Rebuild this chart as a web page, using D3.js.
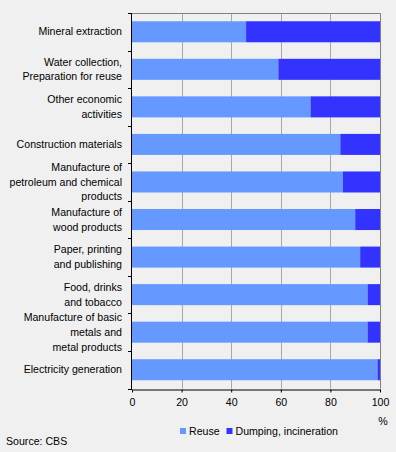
<!DOCTYPE html>
<html>
<head>
<meta charset="utf-8">
<script src="https://cdn.jsdelivr.net/npm/d3@7"></script>
<style>
  html, body { margin: 0; padding: 0; background: #f0f0f0; }
  svg { display: block; }
</style>
</head>
<body>
<div id="chart"></div>
<script>
const categories = [
  ["Mineral extraction"],
  ["Water collection,", "Preparation for reuse"],
  ["Other economic", "activities"],
  ["Construction materials"],
  ["Manufacture of", "petroleum and chemical", "products"],
  ["Manufacture of", "wood products"],
  ["Paper, printing", "and publishing"],
  ["Food, drinks", "and tobacco"],
  ["Manufacture of basic", "metals and", "metal products"],
  ["Electricity generation"]
];
const reuse = [46, 59, 72, 84, 85, 90, 92, 95, 95, 99];
const dumping = reuse.map(v => 100 - v);
const seriesNames = ["Reuse", "Dumping, incineration"];
const xTicks = [0, 20, 40, 60, 80, 100];

const width = 396, height = 452;
const margin = { top: 13, right: 16, bottom: 64, left: 132 };
const font = "'Liberation Sans', Arial, sans-serif";
const fontSize = "10.6px";
const colors = ["#6699ff", "#3333ff"];

const svg = d3.select("#chart").append("svg")
  .attr("width", width)
  .attr("height", height)
  .style("background", "#f0f0f0");

const x = d3.scaleLinear().domain([0, 100]).range([margin.left, width - margin.right]);
const y = d3.scaleBand()
  .domain(d3.range(categories.length))
  .range([margin.top, height - margin.bottom + 0.5])
  .paddingInner(0.44)
  .paddingOuter(0.22);

// gridlines
svg.append("g")
  .selectAll("line")
  .data(xTicks.slice(1, -1))
  .join("line")
  .attr("x1", d => Math.round(x(d)) + 0.5)
  .attr("x2", d => Math.round(x(d)) + 0.5)
  .attr("y1", margin.top)
  .attr("y2", y.range()[1])
  .attr("stroke", "#a8a8a8");

// stacked bars
const stack = categories.map((c, i) => [
  { s: 0, x0: 0, x1: reuse[i] },
  { s: 1, x0: reuse[i], x1: reuse[i] + dumping[i] }
]);

svg.append("g")
  .selectAll("g")
  .data(stack)
  .join("g")
  .attr("transform", (d, i) => `translate(0,${y(i)})`)
  .selectAll("rect")
  .data(d => d)
  .join("rect")
  .attr("x", d => x(d.x0))
  .attr("width", d => x(d.x1) - x(d.x0))
  .attr("height", y.bandwidth())
  .attr("fill", d => colors[d.s]);

// frame top/right
const plotBottom = y.range()[1];
svg.append("path")
  .attr("d", `M${margin.left},${margin.top + 0.5}H${Math.round(x(100)) + 0.5}V${plotBottom}`)
  .attr("fill", "none")
  .attr("stroke", "#808080");

// x axis
const xAxis = svg.append("g")
  .attr("transform", `translate(0,${Math.round(plotBottom) + 0.5})`)
  .call(d3.axisBottom(x).tickValues(xTicks).tickSize(3).tickSizeOuter(0).tickPadding(6));
xAxis.select(".domain").attr("stroke", "#000");
xAxis.selectAll("text").attr("font-family", font).attr("font-size", fontSize).attr("fill", "#000");

// y axis line + ticks at band boundaries
const step = y.step();
const bounds = d3.range(categories.length + 1).map(i => y(0) - y.paddingInner() * step / 2 + i * step);
svg.append("line")
  .attr("x1", margin.left - 0.5).attr("x2", margin.left - 0.5)
  .attr("y1", margin.top).attr("y2", Math.round(plotBottom) + 1)
  .attr("stroke", "#000");
svg.append("g")
  .selectAll("line")
  .data(bounds)
  .join("line")
  .attr("x1", margin.left - 4).attr("x2", margin.left)
  .attr("y1", d => Math.round(d) + 0.5)
  .attr("y2", d => Math.round(d) + 0.5)
  .attr("stroke", "#000");

// category labels
const lineH = 14.7;
svg.append("g")
  .selectAll("text")
  .data(categories)
  .join("text")
  .attr("text-anchor", "end")
  .attr("font-family", font)
  .attr("font-size", fontSize)
  .attr("fill", "#000")
  .each(function (lines, i) {
    const cy = y(i) + y.bandwidth() / 2;
    const t0 = cy - (lines.length - 1) * lineH / 2;
    d3.select(this).selectAll("tspan")
      .data(lines)
      .join("tspan")
      .attr("x", margin.left - 10)
      .attr("y", (d, j) => t0 + j * lineH)
      .attr("dy", "0.35em")
      .text(d => d);
  });

// % unit
svg.append("text")
  .attr("x", 383).attr("y", 425)
  .attr("text-anchor", "middle")
  .attr("font-family", font).attr("font-size", fontSize)
  .text("%");

// legend
const legend = svg.append("g")
  .selectAll("g")
  .data(seriesNames)
  .join("g")
  .attr("transform", (d, i) => `translate(${i === 0 ? 180 : 226.5},428)`);
legend.append("rect")
  .attr("width", 6).attr("height", 6)
  .attr("fill", (d, i) => colors[i]);
legend.append("text")
  .attr("x", 9).attr("y", 3)
  .attr("dy", "0.35em")
  .attr("font-family", font).attr("font-size", fontSize)
  .text(d => d);

// source
svg.append("text")
  .attr("x", 6).attr("y", 441)
  .attr("dy", "0.35em")
  .attr("font-family", font).attr("font-size", fontSize)
  .text("Source: CBS");
</script>
</body>
</html>
